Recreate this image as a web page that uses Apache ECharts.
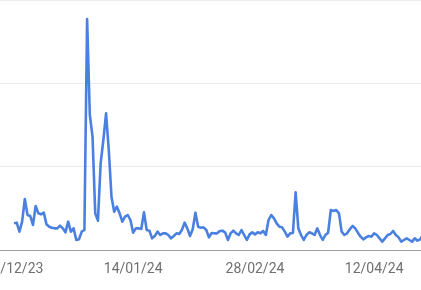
<!DOCTYPE html>
<html>
<head>
<meta charset="utf-8">
<script src="https://cdn.jsdelivr.net/npm/echarts@6/dist/echarts.min.js"></script>
<style>
html,body{margin:0;padding:0;background:#fff;}
#chart{width:421px;height:290px;}
</style>
</head>
<body>
<div id="chart"></div>
<script>
// Daily series starting 01/12/2023
var startDate = [2023, 11, 1];
var values = [
  8.0, 8.2, 5.5, 8.5, 15.3, 10.5, 10.2, 7.5, 13.2, 11.0,
  10.7, 11.2, 7.7, 7.0, 6.7, 6.5, 6.5, 7.3, 6.5, 5.3,
  8.5, 5.5, 6.5, 3.0, 3.2, 5.5, 6.0, 69.3, 40.5, 34.0,
  11.0, 8.8, 26.0, 33.0, 41.0, 30.0, 16.0, 11.5, 13.0, 11.0,
  8.5, 10.0, 10.5, 9.0, 5.2, 6.5, 6.5, 6.3, 11.3, 6.0,
  5.8, 3.5, 4.2, 5.5, 4.5, 5.0, 5.0, 4.5, 3.5, 4.2,
  5.0, 4.8, 6.0, 8.2, 6.5, 4.2, 6.2, 11.2, 7.0, 6.7,
  6.8, 6.0, 3.8, 5.1, 5.0, 5.0, 5.7, 5.8, 5.2, 3.0,
  5.0, 5.8, 5.0, 4.5, 6.0, 4.5, 3.0, 4.7, 5.3, 4.7,
  5.3, 5.0, 5.7, 4.5, 9.0, 10.5, 9.5, 8.0, 7.0, 6.8,
  5.5, 4.0, 5.0, 5.1, 17.3, 6.5, 4.5, 3.0, 4.5, 5.3,
  5.0, 4.5, 6.5, 4.5, 3.0, 4.5, 5.2, 12.0, 11.7, 12.0,
  11.0, 5.5, 4.5, 5.0, 6.2, 7.2, 6.5, 5.2, 4.0, 3.2,
  3.8, 4.2, 4.0, 5.0, 4.5, 3.5, 2.5, 3.5, 4.5, 4.8,
  5.7, 4.5, 3.8, 2.5, 3.0, 3.5, 3.0, 2.5, 3.5, 2.8,
  3.2, 4.5
];
var tickLabels = ['01/12/23', '14/01/24', '28/02/24', '12/04/24'];
var yTicks = [0, 25, 50, 75];

var DAY = 86400000;
var t0 = Date.UTC(startDate[0], startDate[1], startDate[2]);
function parseLabel(s) {
  var p = s.split('/');
  return Date.UTC(2000 + (+p[2]), (+p[1]) - 1, +p[0]);
}
// x = day index from start date
var seriesData = values.map(function (v, i) { return [i, v]; });
var tickIdx = tickLabels.map(function (s) { return Math.round((parseLabel(s) - t0) / DAY); });

var chart = echarts.init(document.getElementById('chart'), null, {renderer: 'canvas'});
chart.setOption({
  animation: false,
  backgroundColor: '#ffffff',
  grid: {left: 0, right: 0, top: 0, bottom: 40, containLabel: false, outerBoundsMode: 'none'},
  xAxis: {
    type: 'value',
    min: -5.17,
    max: 150.3,
    axisLine: {show: true, onZero: false, lineStyle: {color: '#9e9e9e', width: 1}},
    axisTick: {show: false},
    splitLine: {show: false},
    axisLabel: {
      customValues: tickIdx,
      showMinLabel: true,
      showMaxLabel: true,
      hideOverlap: false,
      margin: 12,
      color: '#707070',
      fontFamily: 'Roboto',
      fontSize: 14,
      formatter: function (val) {
        var k = tickIdx.indexOf(Math.round(val));
        return k >= 0 ? tickLabels[k] : '';
      }
    }
  },
  yAxis: {
    type: 'value',
    min: yTicks[0],
    max: yTicks[yTicks.length - 1],
    interval: yTicks[1] - yTicks[0],
    axisLine: {show: false},
    axisTick: {show: false},
    axisLabel: {show: false},
    splitLine: {show: true, lineStyle: {color: '#ebebeb', width: 1}}
  },
  series: [{
    type: 'line',
    data: seriesData,
    showSymbol: false,
    symbol: 'none',
    lineStyle: {color: '#4a80e0', width: 2.6, join: 'round'},
    itemStyle: {color: '#4a80e0'}
  }]
});
</script>
</body>
</html>
